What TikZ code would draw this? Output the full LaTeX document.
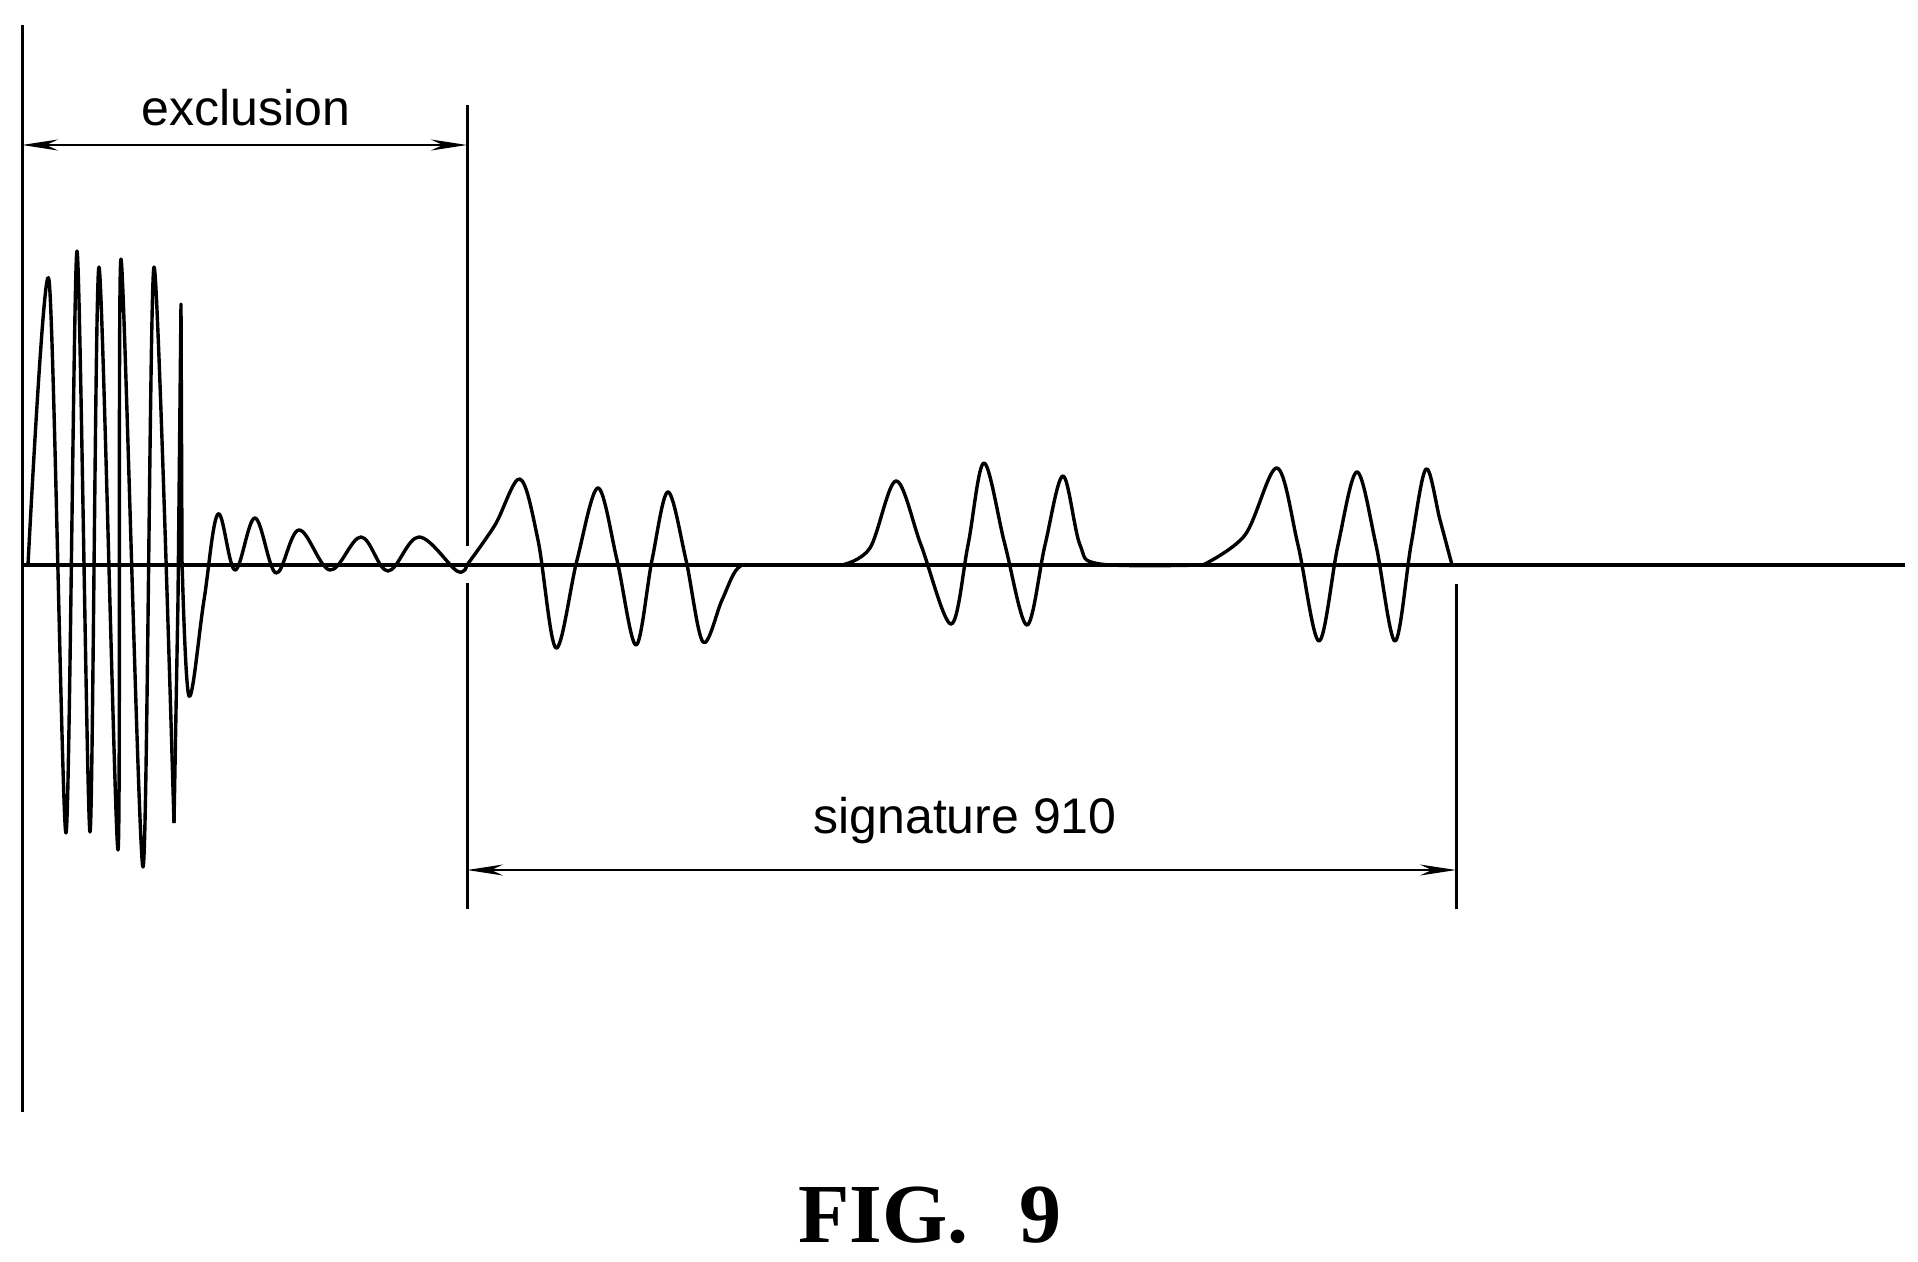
\documentclass[tikz,border=0pt]{standalone}
\usepackage{fontspec}
\setmainfont{Liberation Sans}
\newfontfamily\figfont{Liberation Serif}
\usetikzlibrary{arrows.meta}
\begin{document}
\begin{tikzpicture}[x=1pt,y=-1pt,
  wave/.style={line width=3.4pt,line join=round},
  vline/.style={line width=3pt},
  dim/.style={line width=2.2pt,{Stealth[length=36pt,width=11pt]}-{Stealth[length=36pt,width=11pt]}},
  lbl/.style={font=\fontsize{50}{60}\selectfont}]
\useasboundingbox[fill=white] (0,0) rectangle (1918,1261);
% axes
\coordinate (axT) at (22,25); \coordinate (axB) at (22,1112);
\coordinate (blL) at (22,565); \coordinate (blR) at (1905,565);
\draw[vline] (axT) -- (axB);
\draw[line width=4.2pt] (blL) -- (blR);
% exclusion line (broken at baseline)
\coordinate (eT) at (467,105); \coordinate (eM1) at (467,546);
\coordinate (eM2) at (467,583); \coordinate (eB) at (467,909);
\draw[vline] (eT) -- (eM1); \draw[vline] (eM2) -- (eB);
% signature right line
\coordinate (sT) at (1456,584); \coordinate (sB) at (1456,909);
\draw[vline] (sT) -- (sB);
% dimension arrows
\coordinate (d1L) at (22,145); \coordinate (d1R) at (467,145);
\draw[dim] (d1L) -- (d1R);
\node[lbl] (excl) at (246,108) {exclusion};
\coordinate (d2L) at (467,870); \coordinate (d2R) at (1456,870);
\draw[dim] (d2L) -- (d2R);
\node[lbl] (sig) at (965,821) {signature 910};
\node[font=\figfont\bfseries\fontsize{84}{96}\selectfont] (fig) at (930,1215) {FIG.\hspace{0.6em}9};
% burst
\draw[wave] plot[smooth,tension=0.45] coordinates {
 (28,565) (49,280) (66,833) (77,251) (90,832) (99,267) (118,850) (121,259)
 (143,867) (154,267) (174,823)};
\draw[wave] (174,823) -- (178,600) -- (181,304) -- (182,560)
 plot[smooth,tension=0.6] coordinates {(182,560) (189,696) (204,600) (218,514) (235,570) (255,518) (276,573)
 (299,530) (330,570) (361,537) (388,571) (419,537) (457,571) (467,565)};
% signature groups
\draw[wave] plot[smooth,tension=0.55] coordinates {
 (467,565) (495,525) (520,479) (538,540) (556,648) (577,560) (598,488) (617,560) (636,645)
 (652,560) (668,492) (686,560) (703,642) (722,600) (738,568) (760,565) (842,565)};
\draw[wave] plot[smooth,tension=0.55] coordinates {
 (842,565) (870,548) (896,481) (921,545) (951,624) (968,545) (984,463) (1005,545) (1027,625)
 (1045,545) (1063,476) (1080,545) (1100,564) (1203,565)};
\draw[wave] plot[smooth,tension=0.55] coordinates {
 (1203,565) (1245,535) (1277,468) (1298,545) (1319,641) (1338,545) (1357,472) (1376,545) (1395,641)
 (1411,545) (1426,469) (1440,520) (1452,565)};
\end{tikzpicture}
\end{document}
